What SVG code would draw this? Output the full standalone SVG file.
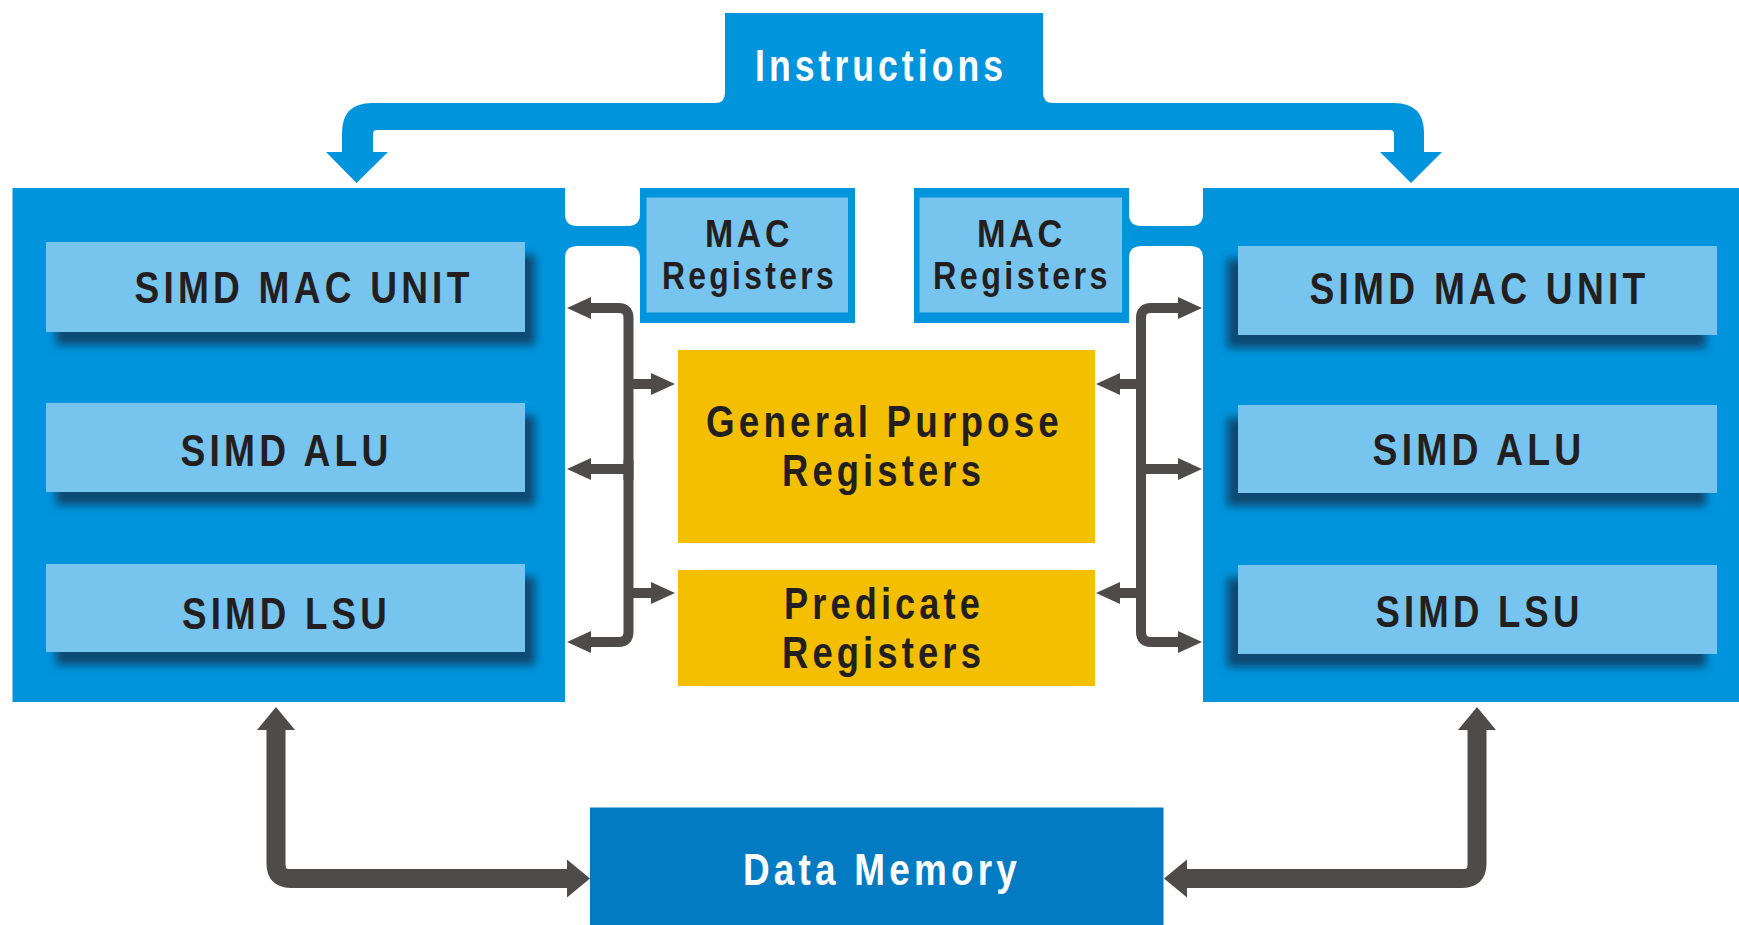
<svg xmlns="http://www.w3.org/2000/svg" width="1739" height="925" viewBox="0 0 1739 925">
<defs>
<style>
.blue{fill:#0094DC}
.lite{fill:#77C4EF}
.yel{fill:#F3BF00}
.mem{fill:#027BC3}
.t{font-family:"Liberation Sans",Arial,sans-serif;font-weight:bold;font-size:44px;letter-spacing:5px;fill:#231F20;text-anchor:middle}
.w{fill:#FFFFFF}
.s{font-size:38px;letter-spacing:4px}
.bus{fill:none;stroke:#4F4B4B;stroke-width:10}
.fat{fill:none;stroke:#4F4B4B;stroke-width:19}
</style>
<filter id="shL" x="-10%" y="-30%" width="130%" height="170%">
<feDropShadow dx="10" dy="13" stdDeviation="4" flood-color="#0B3F66" flood-opacity="0.9"/>
</filter>
<filter id="shR" x="-15%" y="-30%" width="130%" height="170%">
<feDropShadow dx="-11" dy="13" stdDeviation="4" flood-color="#0B3F66" flood-opacity="0.9"/>
</filter>
<marker id="ah" markerUnits="userSpaceOnUse" markerWidth="26" markerHeight="24" viewBox="0 0 26 24" refX="1" refY="11" orient="auto">
<path d="M0,0 L24,11 L0,22 Z" fill="#4F4B4B"/>
</marker>
<marker id="bh" markerUnits="userSpaceOnUse" markerWidth="26" markerHeight="40" viewBox="0 0 26 40" refX="1" refY="19" orient="auto-start-reverse">
<path d="M0,0 L23,19 L0,38 Z" fill="#4F4B4B"/>
</marker>
</defs>
<rect width="1739" height="925" fill="#FFFFFF"/>

<g id="connectors">
<path class="blue" d="M715 103 Q725 103 725 93 V60 H1043 V93 Q1043 103 1053 103 H1394 Q1424 103 1424 133 V152 H1442 L1411 183 L1380 152 H1394 V134 Q1394 130 1390 130 H377 Q373 130 373 134 V152 H388 L356.5 183 L326 152 H342 V133 Q342 103 372 103 Z"/>
<path class="blue" d="M565 214 Q565 226 577 226 H628 Q640 226 640 214 V258 Q640 246 628 246 H577 Q565 246 565 258 Z"/>
<path class="blue" d="M1129 214 Q1129 226 1141 226 H1191 Q1203 226 1203 214 V258 Q1203 246 1191 246 H1141 Q1129 246 1129 258 Z"/>
<path class="bus" d="M628.5 480 V318 Q628.5 308 618.5 308 H590" marker-end="url(#ah)"/>
<path class="bus" d="M628.5 460 V632 Q628.5 642 618.5 642 H590" marker-end="url(#ah)"/>
<path class="bus" d="M624 384 H652" marker-end="url(#ah)"/>
<path class="bus" d="M633 469 H590" marker-end="url(#ah)"/>
<path class="bus" d="M624 593 H652" marker-end="url(#ah)"/>
<path class="bus" d="M1141 480 V318 Q1141 308 1151 308 H1179" marker-end="url(#ah)"/>
<path class="bus" d="M1141 460 V632 Q1141 642 1151 642 H1179" marker-end="url(#ah)"/>
<path class="bus" d="M1146 384 H1119" marker-end="url(#ah)"/>
<path class="bus" d="M1136 469 H1179" marker-end="url(#ah)"/>
<path class="bus" d="M1146 593 H1119" marker-end="url(#ah)"/>
<path class="fat" d="M276 729 V864 Q276 878.5 290.5 878.5 H568" marker-start="url(#bh)" marker-end="url(#bh)"/>
<path class="fat" d="M1477 729 V864 Q1477 878.5 1462.5 878.5 H1186" marker-start="url(#bh)" marker-end="url(#bh)"/>
</g>

<g id="instructions">
<rect class="blue" x="725" y="13" width="318" height="90"/>
<text class="t w" x="881" y="81" textLength="252" lengthAdjust="spacingAndGlyphs">Instructions</text>
</g>

<g id="left-unit">
<rect class="blue" x="12.5" y="188" width="552.5" height="514"/>
</g>
<g id="left-mac-unit">
<rect class="lite" x="46" y="242" width="479" height="90" filter="url(#shL)"/>
<text class="t" x="304" y="303" textLength="339" lengthAdjust="spacingAndGlyphs">SIMD MAC UNIT</text>
</g>
<g id="left-alu">
<rect class="lite" x="46" y="403" width="479" height="89" filter="url(#shL)"/>
<text class="t" x="286.5" y="466" textLength="212" lengthAdjust="spacingAndGlyphs">SIMD ALU</text>
</g>
<g id="left-lsu">
<rect class="lite" x="46" y="564" width="479" height="88" filter="url(#shL)"/>
<text class="t" x="286.5" y="629" textLength="209" lengthAdjust="spacingAndGlyphs">SIMD LSU</text>
</g>

<g id="right-unit">
<rect class="blue" x="1203" y="188" width="536" height="514"/>
</g>
<g id="right-mac-unit">
<rect class="lite" x="1238" y="246" width="479" height="89" filter="url(#shR)"/>
<text class="t" x="1479.5" y="304" textLength="340" lengthAdjust="spacingAndGlyphs">SIMD MAC UNIT</text>
</g>
<g id="right-alu">
<rect class="lite" x="1238" y="405" width="479" height="88" filter="url(#shR)"/>
<text class="t" x="1479" y="465" textLength="213" lengthAdjust="spacingAndGlyphs">SIMD ALU</text>
</g>
<g id="right-lsu">
<rect class="lite" x="1238" y="565" width="479" height="89" filter="url(#shR)"/>
<text class="t" x="1479.5" y="627" textLength="208" lengthAdjust="spacingAndGlyphs">SIMD LSU</text>
</g>

<g id="left-mac-registers">
<rect class="blue" x="640" y="188" width="215" height="135"/>
<rect class="lite" x="646.5" y="197.5" width="201.5" height="115"/>
<text class="t s" x="749" y="247" textLength="88" lengthAdjust="spacingAndGlyphs">MAC</text>
<text class="t s" x="749.5" y="289" textLength="175" lengthAdjust="spacingAndGlyphs">Registers</text>
</g>
<g id="right-mac-registers">
<rect class="blue" x="914" y="188" width="215" height="135"/>
<rect class="lite" x="919.5" y="197.5" width="202.5" height="115"/>
<text class="t s" x="1021.5" y="247" textLength="89" lengthAdjust="spacingAndGlyphs">MAC</text>
<text class="t s" x="1022" y="289" textLength="178" lengthAdjust="spacingAndGlyphs">Registers</text>
</g>

<g id="general-purpose-registers">
<rect class="yel" x="678" y="350" width="417" height="193"/>
<text class="t" x="884.5" y="437" textLength="357" lengthAdjust="spacingAndGlyphs">General Purpose</text>
<text class="t" x="883.5" y="486" textLength="203" lengthAdjust="spacingAndGlyphs">Registers</text>
</g>
<g id="predicate-registers">
<rect class="yel" x="678" y="570" width="417" height="116"/>
<text class="t" x="884" y="619" textLength="200" lengthAdjust="spacingAndGlyphs">Predicate</text>
<text class="t" x="883.5" y="668" textLength="203" lengthAdjust="spacingAndGlyphs">Registers</text>
</g>

<g id="data-memory">
<rect class="mem" x="590" y="807.5" width="573.5" height="117.5"/>
<text class="t w" x="882" y="885" textLength="278" lengthAdjust="spacingAndGlyphs">Data Memory</text>
</g>
</svg>
